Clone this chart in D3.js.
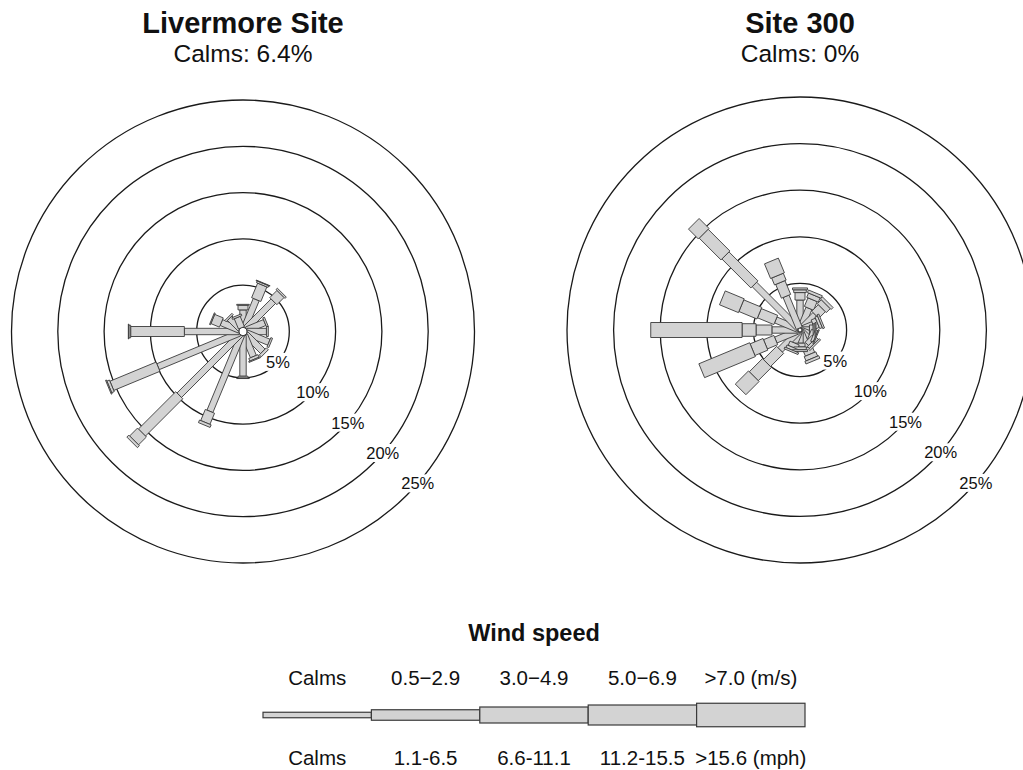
<!DOCTYPE html>
<html><head><meta charset="utf-8">
<script src="https://cdn.jsdelivr.net/npm/d3@7"></script>
<style>
body{margin:0;background:#fff}
svg{display:block}
text{font-family:"Liberation Sans",Arial,Helvetica,sans-serif;fill:#111}
</style>
</head><body>
<svg id="chart" width="1023" height="770"></svg>
<script>
// ---------- data ----------
const directions = ["N","NNE","NE","ENE","E","ESE","SE","SSE","S","SSW","SW","WSW","W","WNW","NW","NNW"];
const speedBins = ["0.5-2.9","3.0-4.9","5.0-6.9",">7.0"];
const ringValues = [5,10,15,20,25];

// Livermore Site: frequency (%) per direction for each speed bin
const livermoreBin1 = [1.9,3.3,4.2,2.1,2.1,2.6,2.6,2.5,4.4,8.9,9.3,9.5,5.9,2.1,1.6,1.2];
const livermoreBin2 = [0.5,1.7,1.1,0.2,0.2,0.2,0.3,0.3,0.2,1.3,5.7,5.4,5.8,1.0,0.2,0.2];
const livermoreBin3 = [0.1,0.2,0.2,0.0,0.0,0.0,0.0,0.1,0.05,0.3,1.2,0.3,0.2,0.1,0.0,0.0];
const livermoreBin4 = [0.0,0.05,0.0,0.0,0.0,0.0,0.0,0.0,0.0,0.0,0.3,0.1,0.05,0.0,0.0,0.0];
const livermoreCalms = "6.4%";

// Site 300
const site300Bin1 = [3.0,2.3,2.1,1.3,0.8,0.9,1.1,1.8,1.2,1.3,2.8,2.6,2.8,2.6,6.7,3.7];
const site300Bin2 = [0.8,1.0,1.0,0.5,0.4,0.4,0.5,0.8,0.4,0.5,2.0,1.2,1.7,1.9,4.4,1.6];
const site300Bin3 = [0.3,0.5,0.6,0.3,0.2,0.3,0.3,0.5,0.3,0.3,2.0,1.5,1.5,2.1,3.3,0.8];
const site300Bin4 = [0.2,0.3,0.3,0.2,0.1,0.1,0.2,0.3,0.2,0.2,2.0,5.9,9.8,2.2,1.5,1.7];
const site300Calms = "0%";

// legend
const legendKeys = ["Calms","0.5\u22122.9","3.0\u22124.9","5.0\u22126.9",">7.0 (m/s)"];
const legendMph = ["Calms","1.1-6.5","6.6-11.1","11.2-15.5",">15.6 (mph)"];

// ---------- drawing ----------
const svg = d3.select("#chart");
const FILL = "#d3d3d3", EDGE = "#3a3a3a";
const barHalfWidth = d3.scaleOrdinal().domain(speedBins).range([3.2, 5.0, 6.3, 7.5]);
const angle = d3.scaleLinear().domain([0, directions.length]).range([0, 2*Math.PI]);

function rose(cfg){
  const g = svg.append("g");
  const {cx, cy, R, hole, bins, title, calms} = cfg;
  const r = d3.scaleLinear().domain([0, 25]).range([0, R]);
  g.selectAll("circle.ring").data(ringValues).join("circle")
    .attr("cx", cx).attr("cy", cy).attr("r", d => r(d))
    .attr("fill", "none").attr("stroke", "#1a1a1a").attr("stroke-width", 1.3);
  const cum = directions.map(() => 0);
  bins.forEach((vals, bi) => {
    const segs = vals.map((v, i) => {
      const s = {i, r1: hole + r(cum[i]), r2: hole + r(cum[i] + v), w: barHalfWidth(speedBins[bi])};
      cum[i] += v;
      return s;
    }).filter(s => s.r2 - s.r1 > 0.01);
    g.append("g").selectAll("path").data(segs).join("path")
      .attr("d", s => {
        const t = angle(s.i), ux = Math.sin(t), uy = -Math.cos(t), px = Math.cos(t), py = Math.sin(t);
        const p = d3.path();
        p.moveTo(cx + s.r1*ux - s.w*px, cy + s.r1*uy - s.w*py);
        p.lineTo(cx + s.r1*ux + s.w*px, cy + s.r1*uy + s.w*py);
        p.lineTo(cx + s.r2*ux + s.w*px, cy + s.r2*uy + s.w*py);
        p.lineTo(cx + s.r2*ux - s.w*px, cy + s.r2*uy - s.w*py);
        p.closePath();
        return p.toString();
      })
      .attr("fill", FILL).attr("stroke", EDGE).attr("stroke-width", 0.9).attr("stroke-linejoin","miter");
  });
  const la = 131 * Math.PI / 180;
  const lab = g.selectAll("g.lab").data(ringValues).join("g")
    .attr("transform", d => `translate(${cx + r(d)*Math.sin(la)},${cy - r(d)*Math.cos(la)})`);
  lab.append("rect").attr("x", d => d < 10 ? -12 : -18).attr("y", -9)
    .attr("width", d => d < 10 ? 24 : 36).attr("height", 18).attr("fill", "#fff");
  lab.append("text").attr("text-anchor", "middle").attr("dy", "0.36em")
    .attr("font-size", 16.5).text(d => d + "%");
  svg.append("text").attr("x", cx).attr("y", 33).attr("text-anchor","middle")
    .attr("font-size", 29).attr("font-weight","bold").text(title);
  svg.append("text").attr("x", cx).attr("y", 61.5).attr("text-anchor","middle")
    .attr("font-size", 24.5).text("Calms: " + calms);
}

rose({cx: 243, cy: 331.5, R: 231.5, hole: 4, title: "Livermore Site", calms: livermoreCalms,
      bins: [livermoreBin1, livermoreBin2, livermoreBin3, livermoreBin4]});
rose({cx: 800, cy: 330, R: 233, hole: 2, title: "Site 300", calms: site300Calms,
      bins: [site300Bin1, site300Bin2, site300Bin3, site300Bin4]});

// legend
const lx = d3.scaleBand().domain(legendKeys).range([263, 805]);
const lh = d3.scaleOrdinal().domain(legendKeys).range([5.5, 10.5, 16, 20, 23.5]);
const lg = svg.append("g");
lg.append("text").attr("x", 534).attr("y", 641).attr("text-anchor","middle")
  .attr("font-size", 23.5).attr("font-weight","bold").text("Wind speed");
lg.selectAll("rect").data(legendKeys).join("rect")
  .attr("x", d => lx(d)).attr("width", lx.bandwidth())
  .attr("y", d => 715 - lh(d)/2).attr("height", d => lh(d))
  .attr("fill", FILL).attr("stroke", EDGE).attr("stroke-width", 1.2);
lg.selectAll("text.top").data(legendKeys).join("text").attr("class","top")
  .attr("x", d => lx(d) + lx.bandwidth()/2).attr("y", 685)
  .attr("text-anchor","middle").attr("font-size", 20.5).text(d => d);
lg.selectAll("text.bot").data(legendMph).join("text").attr("class","bot")
  .attr("x", (d,i) => lx(legendKeys[i]) + lx.bandwidth()/2).attr("y", 765)
  .attr("text-anchor","middle").attr("font-size", 20.5).text(d => d);
</script>
</body></html>
